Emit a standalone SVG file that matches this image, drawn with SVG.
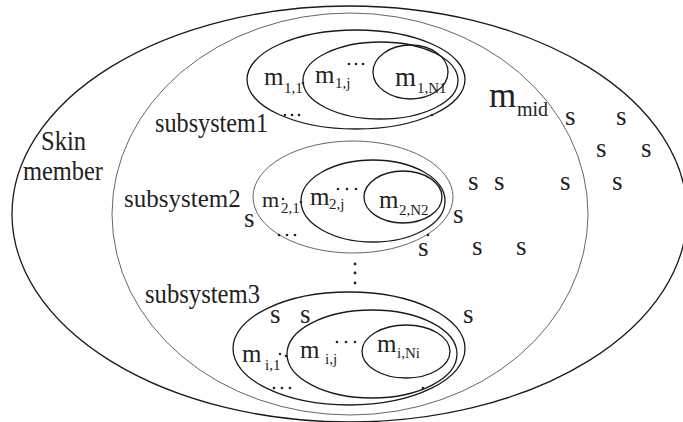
<svg xmlns="http://www.w3.org/2000/svg" width="683" height="422" viewBox="0 0 683 422">
<style>
.t{font-family:"Liberation Serif","Times New Roman",serif;fill:#222}
.b{font-size:25px}
.s{font-size:27px}
.sub{font-size:15px}
.lbl{font-size:27px}
.e{fill:none;stroke:#1a1a1a;stroke-width:1.3}
.thin{fill:none;stroke:#555;stroke-width:0.9}
.d{fill:#222}
</style>
<rect width="683" height="422" fill="#fff"/>
<g id="skin">
<ellipse class="e" cx="349.5" cy="214" rx="337.5" ry="208"/>
<text class="t lbl" x="41" y="150" textLength="45" lengthAdjust="spacingAndGlyphs">Skin</text>
<text class="t lbl" x="23" y="180" textLength="80" lengthAdjust="spacingAndGlyphs">member</text>
</g>
<g id="mid">
<ellipse class="thin" cx="350" cy="214" rx="238" ry="201"/>
<text class="t" x="489" y="107" font-size="35">m</text>
<text class="t" x="517" y="116" font-size="20">mid</text>
</g>
<g id="subsystem1">
<ellipse class="e" cx="356" cy="79.5" rx="109" ry="49.5"/>
<ellipse class="e" cx="380.5" cy="80.5" rx="77.5" ry="38.5"/>
<ellipse class="e" cx="410.5" cy="72" rx="37.5" ry="27"/>
<text class="t b" x="264" y="85">m</text>
<text class="t sub" x="284" y="93">1,1</text>
<text class="t b" x="315" y="83">m</text>
<text class="t sub" x="335" y="88">1,j</text>
<text class="t" x="395" y="86" font-size="27">m</text>
<text class="t sub" x="417" y="93">1,N1</text>
<circle class="d" cx="303" cy="83" r="1.3"/>
<circle class="d" cx="349" cy="64" r="1.3"/><circle class="d" cx="356" cy="64" r="1.3"/><circle class="d" cx="363" cy="64" r="1.3"/>
<circle class="d" cx="285" cy="115" r="1.3"/><circle class="d" cx="292" cy="115" r="1.3"/><circle class="d" cx="299" cy="115" r="1.3"/>
<circle class="d" cx="432" cy="115" r="1.3"/>
<text class="t lbl" x="155" y="132" textLength="113" lengthAdjust="spacingAndGlyphs">subsystem1</text>
</g>
<g id="subsystem2">
<ellipse class="thin" cx="353" cy="197" rx="100" ry="56"/>
<ellipse class="e" cx="373" cy="201" rx="72" ry="41"/>
<ellipse class="e" cx="403" cy="197" rx="39" ry="26"/>
<text class="t" x="262" y="207" font-size="22">m</text>
<text class="t sub" x="281" y="213">2,1</text>
<text class="t b" x="310" y="205">m</text>
<text class="t sub" x="329" y="209">2,j</text>
<text class="t b" x="379" y="208">m</text>
<text class="t sub" x="399" y="215">2,N2</text>
<circle class="d" cx="283" cy="199" r="1.2"/>
<circle class="d" cx="301" cy="202" r="1.3"/>
<circle class="d" cx="338" cy="189" r="1.3"/><circle class="d" cx="347" cy="189" r="1.3"/><circle class="d" cx="356" cy="189" r="1.3"/>
<circle class="d" cx="279" cy="235" r="1.3"/><circle class="d" cx="287" cy="235" r="1.3"/><circle class="d" cx="295" cy="235" r="1.3"/>
<circle class="d" cx="428" cy="235" r="1.3"/>
<text class="t" x="124" y="207" font-size="25">subsystem2</text>
</g>
<g id="subsystem3">
<ellipse class="e" cx="349" cy="348.5" rx="116" ry="56.5"/>
<ellipse class="e" cx="372" cy="354" rx="85" ry="44"/>
<ellipse class="e" cx="406" cy="351.5" rx="44" ry="26.5"/>
<text class="t b" x="242" y="362">m</text>
<text class="t sub" x="265" y="370">i,1</text>
<text class="t b" x="300" y="358">m</text>
<text class="t sub" x="325" y="364">i,j</text>
<text class="t b" x="377" y="352">m</text>
<text class="t sub" x="397" y="358">i,Ni</text>
<circle class="d" cx="280" cy="354" r="1.2"/>
<circle class="d" cx="286" cy="356" r="1.3"/>
<circle class="d" cx="337" cy="342" r="1.3"/><circle class="d" cx="346" cy="342" r="1.3"/><circle class="d" cx="355" cy="342" r="1.3"/>
<circle class="d" cx="274" cy="388" r="1.3"/><circle class="d" cx="282" cy="388" r="1.3"/><circle class="d" cx="290" cy="388" r="1.3"/>
<circle class="d" cx="423" cy="388" r="1.3"/>
<text class="t lbl" x="145" y="303" textLength="115" lengthAdjust="spacingAndGlyphs">subsystem3</text>
</g>
<g id="vdots">
<circle class="d" cx="355" cy="264" r="1.4"/><circle class="d" cx="355" cy="273" r="1.4"/><circle class="d" cx="355" cy="283" r="1.4"/>
</g>
<g id="springs">
<text class="t s" x="565" y="125">s</text>
<text class="t s" x="616" y="125">s</text>
<text class="t s" x="596" y="157">s</text>
<text class="t s" x="641" y="157">s</text>
<text class="t s" x="468" y="190">s</text>
<text class="t s" x="494" y="190">s</text>
<text class="t s" x="560" y="190">s</text>
<text class="t s" x="612" y="190">s</text>
<text class="t s" x="453" y="223">s</text>
<text class="t s" x="418" y="256">s</text>
<text class="t s" x="472" y="255">s</text>
<text class="t s" x="516" y="255">s</text>
<text class="t s" x="244" y="227">s</text>
<text class="t s" x="270" y="323">s</text>
<text class="t s" x="300" y="323">s</text>
<text class="t s" x="463" y="323">s</text>
</g>
<g id="connectors"/>
</svg>
